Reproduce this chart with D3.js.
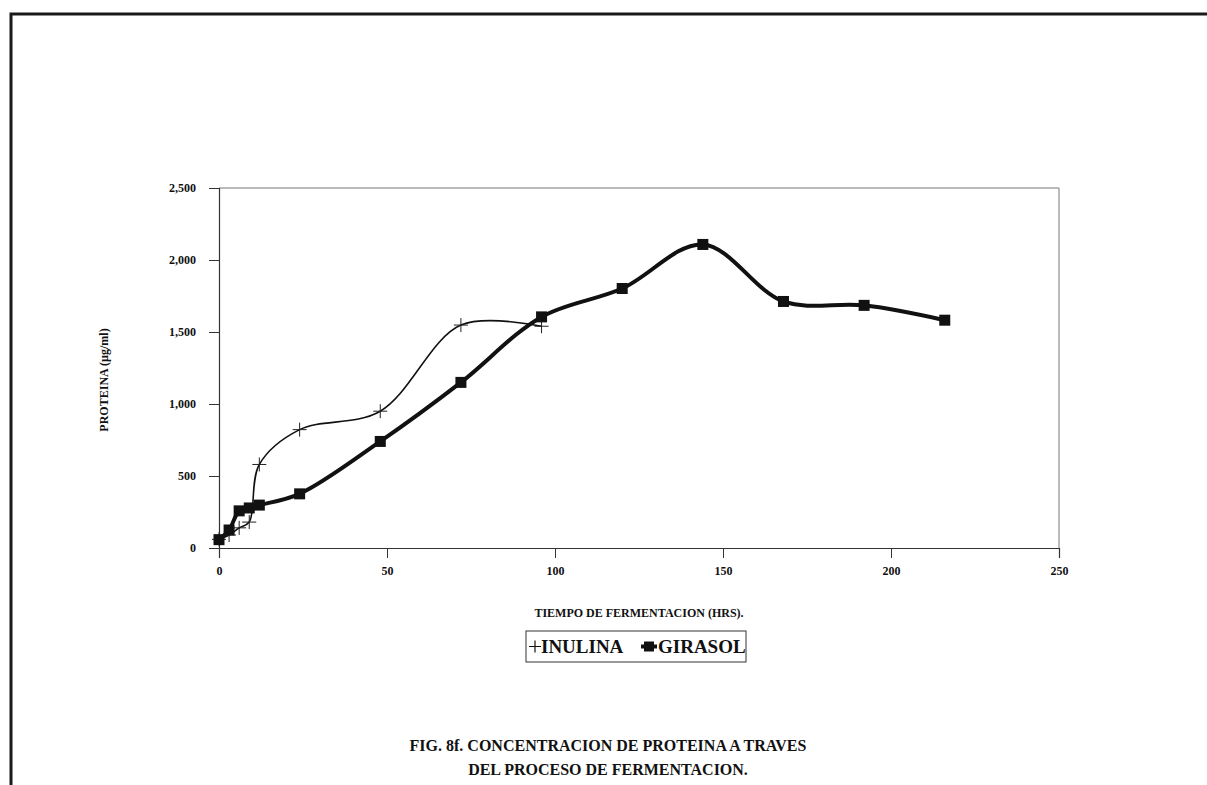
<!DOCTYPE html>
<html>
<head>
<meta charset="utf-8">
<script src="https://cdn.jsdelivr.net/npm/d3@7"></script>
<style>
  body { margin: 0; background: #fff; }
  text { font-family: "Liberation Serif", "Times New Roman", serif; }
</style>
</head>
<body>
<svg></svg>
<script>
//Chart data.
var inulinaHours = [0, 3, 6, 9, 12, 24, 48, 72, 96];
var inulinaValues = [60, 90, 140, 180, 580, 822, 950, 1548, 1540];
var girasolHours = [0, 3, 6, 9, 12, 24, 48, 72, 96, 120, 144, 168, 192, 216];
var girasolValues = [58, 125, 258, 278, 298, 376, 740, 1150, 1605, 1802, 2108, 1712, 1685, 1582];
var xTicks = [0, 50, 100, 150, 200, 250];
var yTicks = [0, 500, 1000, 1500, 2000, 2500];

var w = 1207;
var h = 785;

var svg = d3.select("svg");
svg.attr("width", w).attr("height", h);

//Outer page frame (only top and left edges show in the scan).
svg.append("path")
  .attr("d", "M11," + (h + 5) + "V14H" + (w + 5))
  .attr("fill", "none")
  .attr("stroke", "#1a1a1a")
  .attr("stroke-width", 3);

//Plot area. (Don't call it "top": that's window.top.)
var plotLeft = 219, plotRight = 1059, plotTop = 188, plotBottom = 548;

var x = d3.scaleLinear().domain([0, 250]).range([plotLeft, plotRight]);
var y = d3.scaleLinear().domain([0, 2500]).range([plotBottom, plotTop]);

//Top and right border of the plot area.
svg.append("path")
  .attr("d", "M" + plotLeft + "," + plotTop + "H" + plotRight + "V" + plotBottom)
  .attr("fill", "none")
  .attr("stroke", "#777")
  .attr("stroke-width", 1);

var xAxis = svg.append("g")
  .attr("transform", "translate(0," + plotBottom + ")")
  .call(d3.axisBottom(x).tickValues(xTicks).tickSize(10).tickPadding(8).tickFormat(d3.format("d")));

var yAxis = svg.append("g")
  .attr("transform", "translate(" + plotLeft + ",0)")
  .call(d3.axisLeft(y).tickValues(yTicks).tickSize(10).tickPadding(13).tickFormat(d3.format(",")));

//Style both axes like the old spreadsheet print.
[xAxis, yAxis].forEach(axis => {
  axis.select(".domain").attr("stroke", "#333").attr("stroke-width", 1.2);
  axis.selectAll(".tick line").attr("stroke", "#333").attr("stroke-width", 1);
  axis.selectAll(".tick text")
    .attr("fill", "#111")
    .attr("font-size", 12)
    .attr("font-weight", "bold")
    .style("font-family", "'Liberation Serif', serif");
});

//Smoothed lines. Centripetal Catmull-Rom keeps the overshoot small,
//closer to the flat tops the scan shows.
var line = d3.line()
  .x(d => x(d[0]))
  .y(d => y(d[1]))
  .curve(d3.curveCatmullRom.alpha(0.5));

var inulina = d3.zip(inulinaHours, inulinaValues);
var girasol = d3.zip(girasolHours, girasolValues);

svg.append("path")
  .datum(inulina)
  .attr("d", line)
  .attr("fill", "none")
  .attr("stroke", "#111")
  .attr("stroke-width", 1.6);

svg.append("path")
  .datum(girasol)
  .attr("d", line)
  .attr("fill", "none")
  .attr("stroke", "#111")
  .attr("stroke-width", 4);

//Plus markers for inulina.
svg.append("g")
  .selectAll("path")
  .data(inulina)
  .enter().append("path")
    .attr("d", d => "M" + (x(d[0]) - 7) + "," + y(d[1]) + "h14M" + x(d[0]) + "," + (y(d[1]) - 7) + "v14")
    .attr("stroke", "#222")
    .attr("stroke-width", 1);

//Square markers for girasol.
svg.append("g")
  .selectAll("rect")
  .data(girasol)
  .enter().append("rect")
    .attr("x", d => x(d[0]) - 5.5)
    .attr("y", d => y(d[1]) - 5.5)
    .attr("width", 11)
    .attr("height", 11)
    .attr("fill", "#111");

//Axis titles.
svg.append("text")
  .attr("x", (plotLeft + plotRight) / 2)
  .attr("y", 617)
  .attr("text-anchor", "middle")
  .attr("font-size", 12)
  .attr("font-weight", "bold")
  .attr("fill", "#111")
  .text("TIEMPO DE FERMENTACION (HRS).");

svg.append("text")
  .attr("transform", "translate(108,380) rotate(-90)")
  .attr("text-anchor", "middle")
  .attr("font-size", 12)
  .attr("font-weight", "bold")
  .attr("fill", "#111")
  .text("PROTEINA (µg/ml)");

//Legend.
var legend = svg.append("g").attr("transform", "translate(526,631)");
legend.append("rect")
  .attr("width", 220)
  .attr("height", 31)
  .attr("fill", "#fff")
  .attr("stroke", "#333")
  .attr("stroke-width", 1);

legend.append("path")
  .attr("d", "M3,15.5h12M9,9.5v12")
  .attr("stroke", "#111")
  .attr("stroke-width", 1.2);
legend.append("text")
  .attr("x", 15)
  .attr("y", 22)
  .attr("font-size", 19)
  .attr("font-weight", "bold")
  .attr("fill", "#111")
  .text("INULINA");

legend.append("path")
  .attr("d", "M115,15.5h16")
  .attr("stroke", "#111")
  .attr("stroke-width", 4);
legend.append("rect")
  .attr("x", 118)
  .attr("y", 10.5)
  .attr("width", 10)
  .attr("height", 10)
  .attr("fill", "#111");
legend.append("text")
  .attr("x", 132)
  .attr("y", 22)
  .attr("font-size", 19)
  .attr("font-weight", "bold")
  .attr("fill", "#111")
  .text("GIRASOL");

//Figure caption.
var caption = ["FIG. 8f. CONCENTRACION DE PROTEINA A TRAVES", "DEL PROCESO DE FERMENTACION."];
svg.append("g")
  .selectAll("text")
  .data(caption)
  .enter().append("text")
    .attr("x", 608)
    .attr("y", (d, i) => 751 + i * 24)
    .attr("text-anchor", "middle")
    .attr("font-size", 16)
    .attr("font-weight", "bold")
    .attr("fill", "#111")
    .text(d => d);
</script>
</body>
</html>
